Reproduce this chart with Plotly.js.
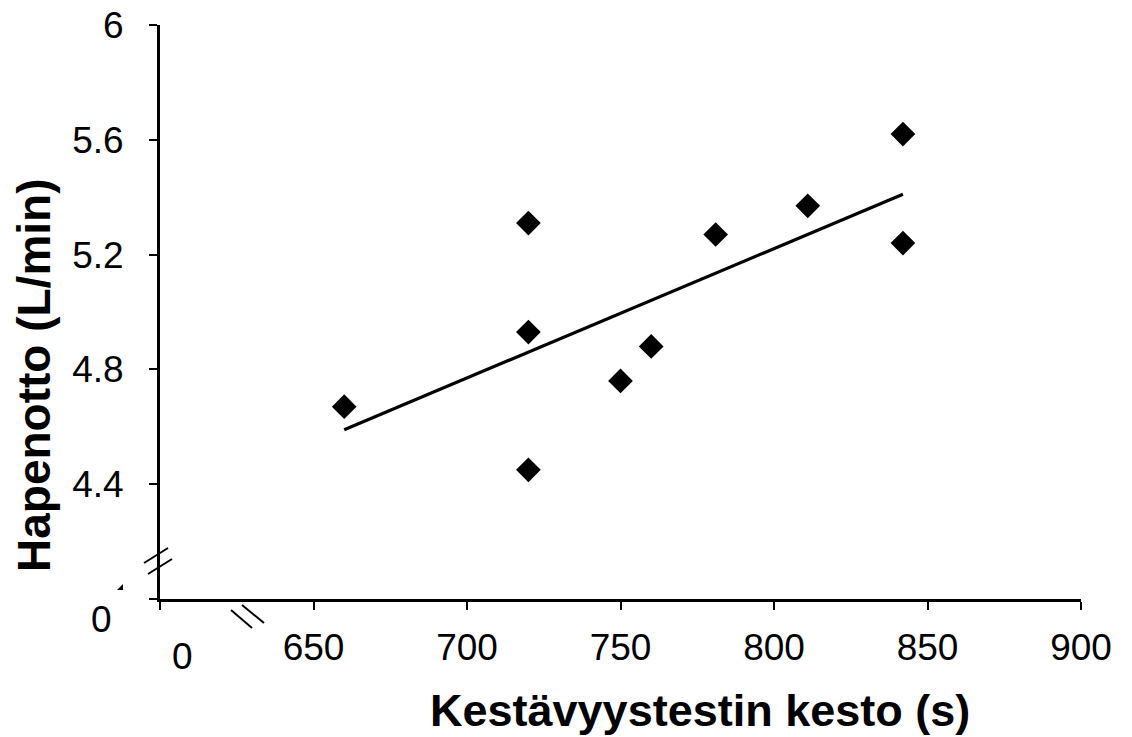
<!DOCTYPE html>
<html>
<head>
<meta charset="utf-8">
<script src="https://cdn.plot.ly/plotly-3.0.1.min.js"></script>
<style>
html,body{margin:0;padding:0;background:#fff;}
#chart{width:1132px;height:737px;}
</style>
</head>
<body>
<div id="chart"></div>
<script>
// Data
const durationSeconds = [660, 720, 720, 720, 750, 760, 781, 811, 842, 842];
const oxygenUptake   = [4.67, 5.31, 4.93, 4.45, 4.76, 4.88, 5.27, 5.37, 5.62, 5.24];
const trendX = [660, 842];
const trendY = [4.59, 5.41];

const xTickVals = [600, 650, 700, 750, 800, 850, 900];
const xTickText = ["", "650", "700", "750", "800", "850", "900"];
const yTickVals = [4.0, 4.4, 4.8, 5.2, 5.6, 6.0];
const yTickText = ["", "4.4", "4.8", "5.2", "5.6", "6"];

const xTitle = "Kestävyystestin kesto (s)";
const yTitle = "Hapenotto (L/min)";

const FONT = "Liberation Sans, Arial, sans-serif";
const L = 160, T = 25, W = 921, H = 574;
// pixel -> paper helpers for decorations
const px = x => (x - L) / W;
const py = y => (T + H - y) / H;

const traces = [
  {
    x: trendX, y: trendY, type: "scatter", mode: "lines",
    line: {color: "#000", width: 3.2}, hoverinfo: "skip", showlegend: false
  },
  {
    x: durationSeconds, y: oxygenUptake, type: "scatter", mode: "markers",
    marker: {symbol: "diamond", size: 19, color: "#000", line: {width: 0}},
    showlegend: false
  }
];

const brk = (x0, y0, x1, y1) => ({
  type: "line", xref: "paper", yref: "paper",
  x0: px(x0), y0: py(y0), x1: px(x1), y1: py(y1),
  line: {color: "#000", width: 2}
});

const layout = {
  width: 1132, height: 737,
  margin: {l: L, r: 1132 - L - W, t: T, b: 737 - T - H},
  paper_bgcolor: "#fff", plot_bgcolor: "#fff",
  showlegend: false,
  font: {family: FONT, color: "#000"},
  xaxis: {
    range: [600, 900], tickmode: "array", tickvals: xTickVals, ticktext: xTickText,
    showgrid: false, zeroline: false, showline: true, linecolor: "#000", linewidth: 3,
    ticks: "outside", ticklen: 8, tickwidth: 2, tickcolor: "#000",
    tickfont: {family: FONT, size: 37, color: "#000"},
    ticklabelstandoff: 6
  },
  yaxis: {
    range: [4.0, 6.0], tickmode: "array", tickvals: yTickVals, ticktext: yTickText,
    showgrid: false, zeroline: false, showline: true, linecolor: "#000", linewidth: 3,
    ticks: "outside", ticklen: 8, tickwidth: 2, tickcolor: "#000",
    tickfont: {family: FONT, size: 37, color: "#000"},
    ticklabelstandoff: 18
  },
  shapes: [
    brk(144, 563, 168, 548),
    brk(148, 574, 172, 559),
    brk(231, 610, 252, 628),
    brk(242, 605, 264, 623),
    {type: "path", xref: "paper", yref: "paper",
     path: `M${px(117)},${py(590)} L${px(123)},${py(584)} L${px(123)},${py(590)} Z`,
     fillcolor: "#000", line: {width: 0}}
  ],
  annotations: [
    {text: "0", xref: "paper", yref: "paper", x: px(101), y: py(619), xanchor: "center", yanchor: "middle",
     showarrow: false, font: {family: FONT, size: 37, color: "#000"}},
    {text: "0", xref: "paper", yref: "paper", x: px(182), y: py(656), xanchor: "center", yanchor: "middle",
     showarrow: false, font: {family: FONT, size: 37, color: "#000"}},
    {text: "<b>" + xTitle + "</b>", xref: "paper", yref: "paper", x: px(700), y: py(710),
     xanchor: "center", yanchor: "middle", showarrow: false,
     font: {family: FONT, size: 45, color: "#000"}},
    {text: "<b>" + yTitle + "</b>", xref: "paper", yref: "paper", x: px(34), y: py(375),
     xanchor: "center", yanchor: "middle", textangle: -90, showarrow: false,
     font: {family: FONT, size: 46, color: "#000"}}
  ]
};

Plotly.newPlot("chart", traces, layout, {staticPlot: true, displayModeBar: false});
</script>
</body>
</html>
